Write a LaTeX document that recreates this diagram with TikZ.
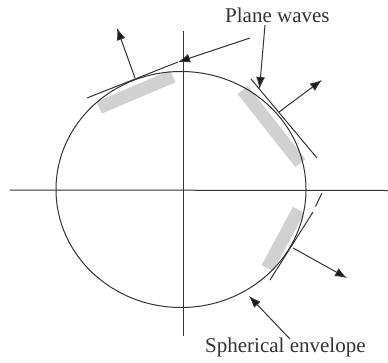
\documentclass[tikz,border=0pt]{standalone}
\usepackage{fontspec}
\setmainfont{Liberation Serif}
\usetikzlibrary{arrows.meta}
\begin{document}
\begin{tikzpicture}[x=1pt,y=-1pt,
  ln/.style={draw=black!80, line width=1pt},
  arr/.style={ln, -{Latex[length=12pt,width=9pt,fill=black!90]}},
  band/.style={fill=black!18, inner sep=0pt, minimum height=13pt},
  lbl/.style={text=black!80, font=\fontsize{21}{24}\selectfont, inner sep=0pt}]
\useasboundingbox (0,0) rectangle (388,362);
% shaded wave fronts
\node[band, minimum width=80pt, rotate=23] (b1) at (136,92) {};
\node[band, minimum width=93pt, rotate=-51.7] (b2) at (271.5,126.5) {};
\node[band, minimum width=66pt, rotate=61.7] (b3) at (283,239) {};
% axes
\coordinate (hl) at (10,190);
\coordinate (hr) at (388,190.5);
\coordinate (vt) at (183,31);
\coordinate (vb) at (183,336);
\draw[ln] (hl) -- (hr);
\draw[ln] (vt) -- (vb);
% spherical envelope
\coordinate (c) at (181,189.5);
\draw[ln] (c) ellipse [x radius=125, y radius=118];
% tangent planes
\coordinate (t1a) at (87,98);
\coordinate (t1b) at (178,62);
\draw[ln] (t1a) -- (t1b);
\coordinate (t2a) at (251,79);
\coordinate (t2b) at (317,158);
\draw[ln] (t2a) -- (t2b);
\coordinate (t3a) at (322,193);
\coordinate (t3b) at (315.5,206.5);
\coordinate (t3c) at (313,212);
\coordinate (t3d) at (270,280);
\draw[ln] (t3a) -- (t3b);
\draw[ln] (t3c) -- (t3d);
% normals
\coordinate (n1a) at (135,78);
\coordinate (n1b) at (117,28);
\draw[arr] (n1a) -- (n1b);
\coordinate (n2a) at (279,112);
\coordinate (n2b) at (322,80);
\draw[arr] (n2a) -- (n2b);
\coordinate (n3a) at (293,248);
\coordinate (n3b) at (347,278);
\draw[arr] (n3a) -- (n3b);
% labels
\node[lbl, anchor=base west] (pw) at (225,22) {Plane waves};
\node[lbl, anchor=base west] (se) at (205,352.5) {Spherical envelope};
\coordinate (p1) at (250,38);
\coordinate (p2) at (265,25);
\coordinate (p2t) at (259.5,89);
\coordinate (s1) at (290,339);
\coordinate (s1t) at (249,296);
\draw[arr] (p1) -- (t1b);
\draw[arr] (p2) -- (p2t);
\draw[arr] (s1) -- (s1t);
\end{tikzpicture}
\end{document}
